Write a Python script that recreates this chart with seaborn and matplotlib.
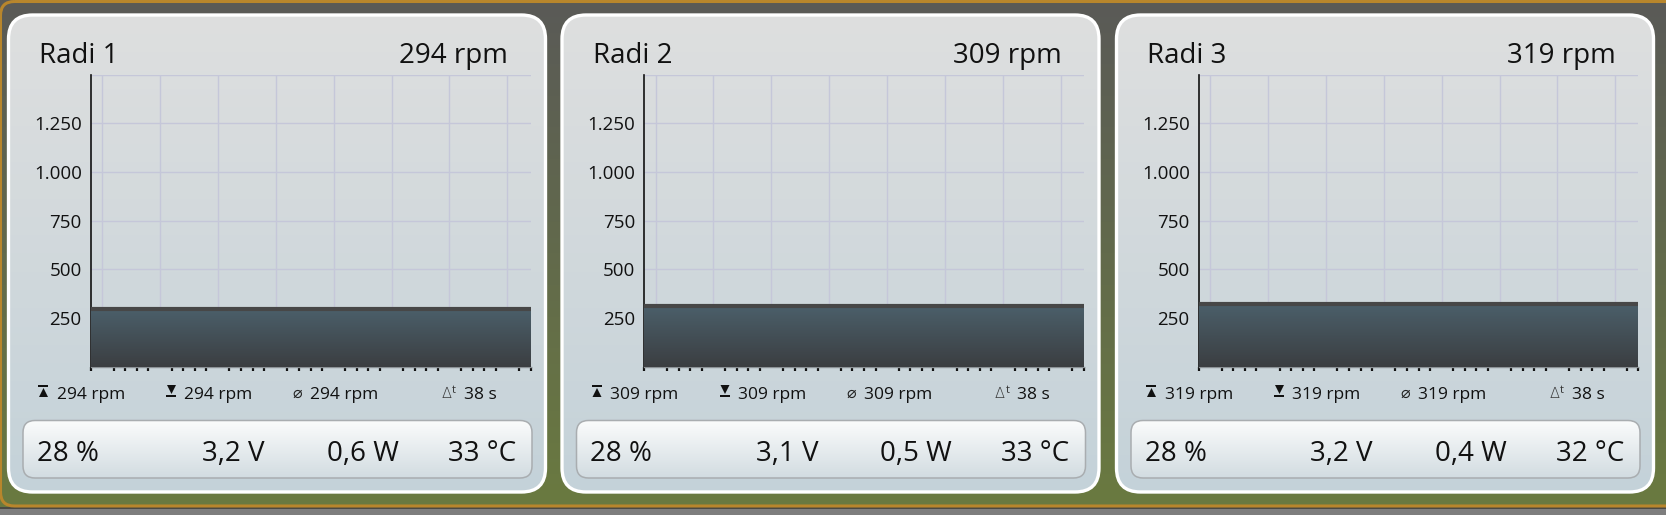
import numpy as np
import matplotlib
matplotlib.use("Agg")
import matplotlib.pyplot as plt
from matplotlib.colors import to_rgb
from matplotlib.patches import FancyBboxPatch, Polygon, Rectangle
from matplotlib.ticker import FixedLocator, MultipleLocator
import seaborn as sns

sns.set_style("white")
plt.rcParams['font.family'] = ['Open Sans', 'DejaVu Sans']

# Data
pump_names = ["Radi 1", "Radi 2", "Radi 3"]
rpm_now = [294, 309, 319]
rpm_max = [294, 309, 319]
rpm_min = [294, 309, 319]
rpm_avg = [294, 309, 319]
window_s = [38, 38, 38]
time_s = [0, 38]
rpm_series = [[294, 294], [309, 309], [319, 319]]
duty_pct = [28, 28, 28]
volts = [3.2, 3.1, 3.2]
watts = [0.6, 0.5, 0.4]
temp_c = [33, 33, 32]
y_ticks = [0, 250, 500, 750, 1000, 1250, 1500]
x_major = [1, 6, 11, 16, 21, 26, 31, 36]

W, H = 1666, 515
card_left = [8.5, 562, 1116.5]
CARD_W, CARD_TOP, CARD_BOT = 537, 15, 492


def dec(v):
    return f"{v:.1f}".replace(".", ",")


def thousands(v):
    return f"{v:,.0f}".replace(",", ".")


def vgrad(ax, x0, x1, y_bottom, y_top, c_top, c_bot, zorder=0):
    t = np.linspace(0, 1, 256)[:, None, None]
    img = (1 - t) * np.array(to_rgb(c_top)) + t * np.array(to_rgb(c_bot))
    return ax.imshow(img, extent=(x0, x1, y_bottom, y_top), origin="upper",
                     aspect="auto", zorder=zorder, interpolation="bilinear")


fig = plt.figure(figsize=(W / 100, H / 100), dpi=100)

# -------------------------------
# background (pixel coordinates)
# -------------------------------
bg = fig.add_axes([0, 0, 1, 1])
bg.axis("off")
vgrad(bg, 0, W, 507, 0, "#5a5a57", "#6a7a40", zorder=0)
bg.add_patch(Rectangle((0, 507), W, 8, fc="#7e7e7e", ec="none", zorder=1))
bg.add_patch(Rectangle((0, 507), W, 1.5, fc="#4a4a44", ec="none", zorder=1))
frame = FancyBboxPatch((0.5, 1.5), W + 30, 504.5,
                       boxstyle="round,pad=0,rounding_size=14",
                       fc="none", ec="#b8862c", lw=2.2, zorder=1)
bg.add_patch(frame)

for i in range(3):
    L = card_left[i]
    card = FancyBboxPatch((L, CARD_TOP), CARD_W, CARD_BOT - CARD_TOP,
                          boxstyle="round,pad=0,rounding_size=24",
                          fc="none", ec="white", lw=2.4, zorder=3)
    bg.add_patch(card)
    im = vgrad(bg, L, L + CARD_W, CARD_BOT, CARD_TOP, "#dedfdf", "#c4d2d9", zorder=2)
    im.set_clip_path(card)

    box = FancyBboxPatch((L + 14.5, 420.5), 509, 57.5,
                         boxstyle="round,pad=0,rounding_size=12",
                         fc="none", ec="#a9adb0", lw=1.1, zorder=5)
    bg.add_patch(box)
    im = vgrad(bg, L + 14.5, L + 523.5, 478, 420.5, "#fbfcfc", "#d2dce1", zorder=4)
    im.set_clip_path(box)

    # header
    bg.text(L + 30.8, 63.3, pump_names[i], fontsize=20, va="baseline",
            ha="left", color="#111111", zorder=6)
    bg.text(L + 499.5, 63.3, f"{rpm_now[i]} rpm", fontsize=20, va="baseline",
            ha="right", color="#111111", zorder=6)

    # stats row
    base = 399.3
    bg.add_patch(Rectangle((L + 30, 385), 10, 2, fc="#111111", ec="none", zorder=6))
    bg.add_patch(Polygon([(L + 35, 388), (L + 30.5, 397), (L + 39.5, 397)],
                         closed=True, fc="#111111", ec="none", zorder=6))
    bg.text(L + 48.5, base, f"{rpm_max[i]} rpm", fontsize=12.5, va="baseline",
            color="#111111", zorder=6)
    bg.add_patch(Polygon([(L + 158.5, 385), (L + 167.5, 385), (L + 163, 394)],
                         closed=True, fc="#111111", ec="none", zorder=6))
    bg.add_patch(Rectangle((L + 158, 395), 10, 2, fc="#111111", ec="none", zorder=6))
    bg.text(L + 176, base, f"{rpm_min[i]} rpm", fontsize=12.5, va="baseline",
            color="#111111", zorder=6)
    bg.text(L + 284, base - 1, "\u2300", fontsize=11.5, va="baseline",
            color="#222222", zorder=6, family=["DejaVu Sans"])
    bg.text(L + 302, base, f"{rpm_avg[i]} rpm", fontsize=12.5, va="baseline",
            color="#111111", zorder=6)
    bg.text(L + 433, base - 1, "\u2206", fontsize=10.5, va="baseline",
            color="#333333", zorder=6, family=["DejaVu Sans"], fontweight="light")
    bg.text(L + 443.5, base - 6, "t", fontsize=8, va="baseline",
            color="#333333", zorder=6)
    bg.text(L + 455.5, base, f"{window_s[i]} s", fontsize=12.5, va="baseline",
            color="#111111", zorder=6)

    # bottom values
    vb = 461
    bg.text(L + 28.5, vb, f"{duty_pct[i]} %", fontsize=20, va="baseline",
            ha="left", color="#111111", zorder=6)
    bg.text(L + 256.5, vb, f"{dec(volts[i])} V", fontsize=20, va="baseline",
            ha="right", color="#111111", zorder=6)
    bg.text(L + 390, vb, f"{dec(watts[i])} W", fontsize=20, va="baseline",
            ha="right", color="#111111", zorder=6)
    bg.text(L + 507.5, vb, f"{temp_c[i]} \u00b0C", fontsize=20, va="baseline",
            ha="right", color="#111111", zorder=6)

bg.set_xlim(0, W)
bg.set_ylim(H, 0)

# -------------------------------
# rpm charts
# -------------------------------
for i in range(3):
    L = card_left[i]
    ax = fig.add_axes([(L + 82) / W, (H - 366.6) / H, 440 / W, 292.1 / H])
    ax.patch.set_alpha(0)

    poly = ax.fill_between(time_s, 0, rpm_series[i], color="#44525a", lw=0, zorder=2)
    im = vgrad(ax, time_s[0], time_s[-1], 0, max(rpm_series[i]),
               "#4b5f6a", "#3b3e41", zorder=3)
    im.set_clip_path(poly.get_paths()[0], transform=ax.transData)
    sns.lineplot(x=time_s, y=rpm_series[i], ax=ax, color="#474747",
                 linewidth=3, zorder=4)

    ax.set_xlim(time_s[0], time_s[-1])
    ax.set_ylim(y_ticks[0], y_ticks[-1])
    ax.xaxis.set_major_locator(FixedLocator(x_major))
    ax.xaxis.set_minor_locator(MultipleLocator(1))
    ax.set_xticklabels([])
    ax.set_yticks(y_ticks)
    ax.set_yticklabels(["" if v in (y_ticks[0], y_ticks[-1]) else thousands(v)
                        for v in y_ticks])
    ax.grid(True, which="major", color="#c5c7d9", lw=1.0, zorder=1)
    ax.set_axisbelow(True)

    for s in ("top", "right"):
        ax.spines[s].set_visible(False)
    ax.spines["left"].set_color("#111111")
    ax.spines["left"].set_linewidth(1.2)
    ax.spines["bottom"].set_color("#8c9296")
    ax.spines["bottom"].set_linewidth(1.0)

    ax.tick_params(axis="y", which="major", direction="out", length=6,
                   width=1.6, color="#111111", labelsize=13.5, pad=0.3,
                   labelcolor="#111111")
    ax.tick_params(axis="x", which="major", direction="out", length=5.5,
                   width=1.6, color="#111111")
    ax.tick_params(axis="x", which="minor", direction="out", length=3,
                   width=1.6, color="#111111", bottom=True)
    ax.set_xlabel("")
    ax.set_ylabel("")

fig.savefig("out.png", dpi=100)
